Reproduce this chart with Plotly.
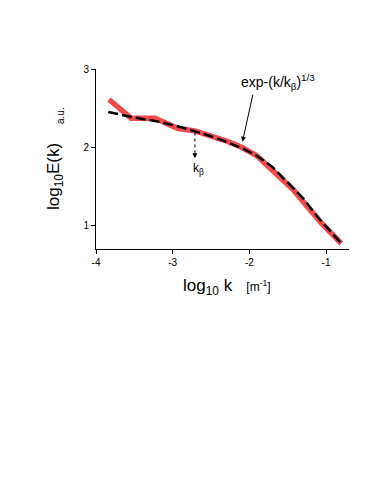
import plotly.graph_objects as go

# measured spectrum (red)
data_logk = [-3.83, -3.54, -3.23, -2.93, -2.71, -2.54, -2.30, -2.10, -1.90, -1.77, -1.60, -1.43, -1.25, -1.05, -0.80]
data_logE = [2.61, 2.37, 2.37, 2.24, 2.21, 2.16, 2.08, 2.00, 1.89, 1.77, 1.62, 1.46, 1.25, 1.02, 0.77]

# stretched-exponential fit (black dashed)
fit_logk = [-3.84, -3.50, -3.20, -2.90, -2.70, -2.50, -2.30, -2.10, -1.90, -1.70, -1.50, -1.30, -1.10, -0.90, -0.80]
fit_logE = [2.45, 2.38, 2.33, 2.26, 2.20, 2.14, 2.07, 1.99, 1.89, 1.75, 1.55, 1.35, 1.10, 0.88, 0.77]

x_ticks = [-4, -3, -2, -1]
y_ticks = [1, 2, 3]

FONT = "Liberation Sans, Arial, sans-serif"

fig = go.Figure()
fig.add_trace(go.Scatter(x=data_logk, y=data_logE, mode="lines",
                         line=dict(color="#f24a4a", width=5.5), showlegend=False))
fig.add_trace(go.Scatter(x=fit_logk, y=fit_logE, mode="lines",
                         line=dict(color="black", width=2.5, dash="10px,4px"), showlegend=False))

axis_common = dict(showgrid=False, zeroline=False, showline=True, linecolor="black",
                   linewidth=1, ticks="outside", ticklen=4, tickwidth=1, tickcolor="black",
                   tickfont=dict(family=FONT, size=10, color="black"))

fig.update_xaxes(range=[-4, -0.7], tickvals=x_ticks, ticktext=[str(v) for v in x_ticks], **axis_common)
fig.update_yaxes(range=[0.7, 3], tickvals=y_ticks, ticktext=[str(v) for v in y_ticks], **axis_common)

# dotted arrow marking k_beta
fig.add_shape(type="line", x0=-2.71, x1=-2.71, y0=2.19, y1=1.89, xref="x", yref="y",
              line=dict(color="black", width=1, dash="dot"))

fig.add_annotation(x=-2.71, y=1.86, ax=0, ay=-6, xref="x", yref="y", showarrow=True, arrowhead=2,
                   arrowsize=1, arrowwidth=1, arrowcolor="black", text="")
fig.add_annotation(x=-2.09, y=2.07, ax=-1.95, ay=2.69, xref="x", yref="y", axref="x", ayref="y",
                   showarrow=True, arrowhead=2, arrowsize=1, arrowwidth=1, arrowcolor="black", text="")
fig.add_annotation(x=-1.62, y=2.84, xref="x", yref="y", showarrow=False,
                   xanchor="center", yanchor="middle",
                   text="exp-(k/k<sub>β</sub>)<sup>1/3</sup>", font=dict(family=FONT, size=14, color="black"))
fig.add_annotation(x=-2.66, y=1.72, xref="x", yref="y", showarrow=False,
                   xanchor="center", yanchor="middle",
                   text="k<sub>β</sub>", font=dict(family=FONT, size=12, color="black"))

# axis titles as pixel-placed annotations (paper coords)
W, H = 374, 488
ml, mr, mt, mb = 96, 25, 69, 239
pw, ph = W - ml - mr, H - mt - mb

def px_to_paper(px, py):
    return (px - ml) / pw, 1 - (py - mt) / ph

xt = px_to_paper(226, 287)
yt = px_to_paper(55, 177)
au = px_to_paper(60, 116)

fig.add_annotation(x=xt[0], y=xt[1], xref="paper", yref="paper", showarrow=False,
                   xanchor="center", yanchor="middle",
                   text="log<sub>10</sub> k &nbsp; <span style='font-size:12px'>[m<sup>-1</sup>]</span>",
                   font=dict(family=FONT, size=17, color="black"))
fig.add_annotation(x=yt[0], y=yt[1], xref="paper", yref="paper", showarrow=False, textangle=-90,
                   xanchor="center", yanchor="middle",
                   text="log<sub>10</sub>E(k)", font=dict(family=FONT, size=17, color="black"))
fig.add_annotation(x=au[0], y=au[1], xref="paper", yref="paper", showarrow=False, textangle=-90,
                   xanchor="center", yanchor="middle",
                   text="a.u.", font=dict(family=FONT, size=10, color="black"))

fig.update_layout(width=W, height=H, margin=dict(l=ml, r=mr, t=mt, b=mb),
                  plot_bgcolor="white", paper_bgcolor="white", showlegend=False)

fig.write_html("out.html", config={"displayModeBar": False},
               post_script="document.body.style.margin='0';")
